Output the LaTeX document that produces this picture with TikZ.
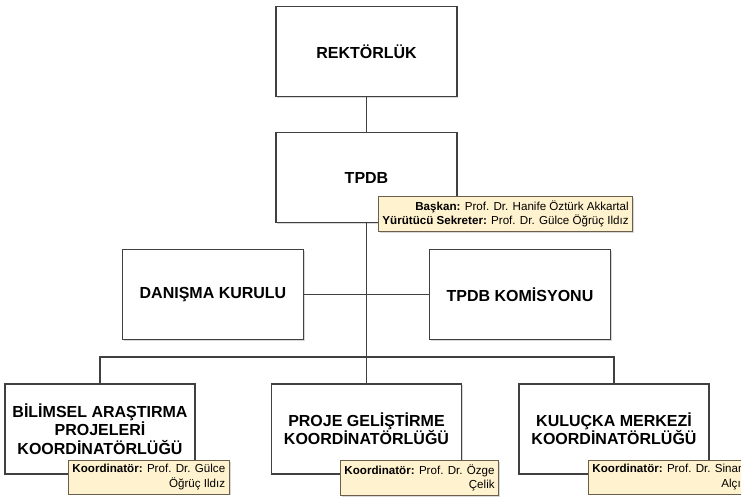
\documentclass[tikz,border=0pt]{standalone}
\usepackage{fontspec}
\setmainfont{Liberation Sans}
\usetikzlibrary{shadows}
\definecolor{boxline}{RGB}{64,64,64}
\definecolor{notefill}{RGB}{255,242,206}
\definecolor{noteline}{RGB}{105,95,75}
\begin{document}
\begin{tikzpicture}[x=0.75pt,y=-0.75pt,
        unit/.style={draw=boxline, line width=0.8pt, fill=white, align=center,
                font=\fontsize{12}{13.8}\selectfont\bfseries,
                minimum width=135.75pt, minimum height=67.5pt, inner sep=2pt,
                drop shadow={shadow xshift=1pt, shadow yshift=-1pt, opacity=0.3}},
        wideunit/.style={unit, minimum width=142.5pt},
        note/.style={draw=noteline, line width=0.7pt, fill=notefill, align=right,
                font=\fontsize{8.7}{11}\selectfont, inner xsep=3pt, inner ysep=3pt,
                anchor=north west,
                drop shadow={shadow xshift=1pt, shadow yshift=-1pt, opacity=0.3}},
        link/.style={draw=boxline, line width=0.8pt}]
        \clip (0,0) rectangle (741,500);
        \fill[white] (0,0) rectangle (741,500);

        % units
        \node[unit] (rektor) at (366.5,51.5) {REKTÖRLÜK};
        \node[unit] (tpdb) at (366.5,177.5) {TPDB};
        \node[unit] (danisma) at (213,294.5) {DANIŞMA KURULU};
        \node[unit] (komisyon) at (520,294.5) {TPDB KOMİSYONU};
        \node[wideunit] (bilimsel) at (100,429) {BİLİMSEL ARAŞTIRMA\\PROJELERİ\\KOORDİNATÖRLÜĞÜ};
        \node[wideunit] (proje) at (366.5,429) {PROJE GELİŞTİRME\\KOORDİNATÖRLÜĞÜ};
        \node[wideunit] (kulucka) at (614,429) {KULUÇKA MERKEZİ\\KOORDİNATÖRLÜĞÜ};

        % connectors
        \coordinate (bus) at (366.5,357);
        \draw[link] (rektor) -- (tpdb);
        \draw[link] (tpdb) -- (proje);
        \draw[link] (danisma) -- (komisyon);
        \draw[link] (bilimsel.north) |- (bus) -| (kulucka.north);

        % notes
        \node[note] (tpdbnote) at (378,196) {\textbf{Başkan:} Prof. Dr. Hanife Öztürk Akkartal\\
                \textbf{Yürütücü Sekreter:} Prof. Dr. Gülce Öğrüç Ildız};
        \node[note] (bilimselnote) at (68,460) {\textbf{Koordinatör:} Prof. Dr. Gülce\\Öğrüç Ildız};
        \node[note] (projenote) at (340,460) {\textbf{Koordinatör:} Prof. Dr. Özge\\Çelik};
        \node[note] (kuluckanote) at (588,460) {\textbf{Koordinatör:} Prof. Dr. Sinan\\Alçır};
\end{tikzpicture}
\end{document}
